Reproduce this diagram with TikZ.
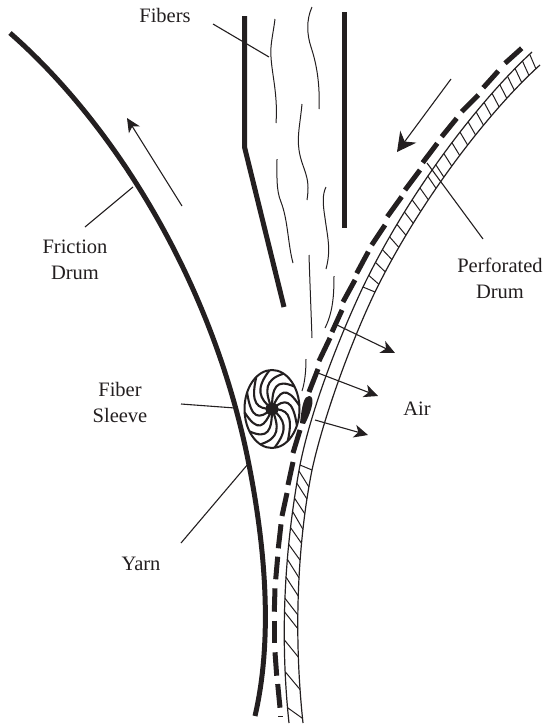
\documentclass[tikz,border=0pt]{standalone}
\usepackage{fontspec}
\setmainfont{Liberation Serif}
\usetikzlibrary{arrows.meta}
\definecolor{ink}{HTML}{231F20}
\tikzset{
  x=1pt,y=-1pt,
  every path/.style={color=ink},
  lbl/.style={inner sep=0pt,align=center,font=\fontsize{20.5}{26}\selectfont,text=ink},
  wallline/.style={line width=5pt,line join=miter},
  beltdash/.style={line width=5pt},
  drumline/.style={line width=1.2pt},
  tick/.style={line width=1pt},
  fiber/.style={line width=1pt},
  leader/.style={line width=1.1pt},
  flow/.style={line width=1.1pt,-{Stealth[length=14pt,width=13pt,inset=4pt]}},
  flowbig/.style={line width=1.1pt,-{Stealth[length=19pt,width=20pt,inset=6pt]}},
}
\begin{document}
\begin{tikzpicture}
\useasboundingbox (0,0) rectangle (544,726);
% friction drum
\draw[wallline] (10,33) .. controls (115,125) and (215,285) .. (250,470)
  .. controls (262,533) and (275,630) .. (255,716);
% channel
\draw[wallline] (244.5,16) -- (244.5,147) -- (284,307);
\draw[wallline] (344.5,12) -- (344.5,228);
% drum walls
\draw[drumline] (532,52) .. controls (480,100) and (410,190) .. (363,287)
  .. controls (338,340) and (311,410) .. (300,465)
  .. controls (288,530) and (278,620) .. (289,723);
\draw[drumline] (540,65) .. controls (490,110) and (420,200) .. (375,292)
  .. controls (352,340) and (324,415) .. (312,470)
  .. controls (300,530) and (292,620) .. (303,723);
% top hatch
\foreach \t in {0.015,0.06,...,0.98}{
  \pgfmathsetmacro{\u}{\t+0.012}
  \path (532,52) .. controls (480,100) and (410,190) .. (363,287) coordinate[pos=\t] (ih);
  \path (540,65) .. controls (490,110) and (420,200) .. (375,292) coordinate[pos=\u] (oh);
  \draw[tick] (ih) -- (oh);
}
\draw[tick] (363,287) -- (375,292);
\draw[tick] (300,465) -- (312,470);
% bottom hatch
\foreach \t/\u in {0.03/0.09,0.09/0.15,0.16/0.22,0.22/0.29,0.29/0.35,0.36/0.42,0.42/0.49,0.49/0.56,0.57/0.63,0.62/0.68,0.72/0.78,0.83/0.89,0.95/0.985}{
  \path (300,465) .. controls (288,530) and (278,620) .. (289,723) coordinate[pos=\t] (ib);
  \path (312,470) .. controls (300,530) and (292,620) .. (303,723) coordinate[pos=\u] (ob);
  \draw[tick] (ib) -- (ob);
}
% perforated belt, dashes
\foreach \xa/\ya/\xb/\yb in {
  521.7/48.3/505/63.3, 498.3/71/483.3/87.7, 478.3/95/461.7/111.7,
  456.7/118.3/441.7/136.7, 437.3/143.3/422.7/162.7, 420/170/405/190,
  401.7/196.7/387.3/216.7, 385/225/371.7/245, 368.3/251.7/356.7/273.3,
  355/280/343/302, 342/310/332/332, 330/338/319/361, 318/369/309/392,
  300/430/293/453, 293/462/288/485, 287/493/282/516,
  281/524.3/278.3/548.3, 277.7/556.7/275.7/579.3, 275/588.3/274.3/611.7,
  274.3/620.7/274.3/643.3, 275/652.3/276.7/675.7, 277.7/684/280/707.7}{
  \draw[beltdash] (\xa,\ya) -- (\xb,\yb);
}
\draw[line width=1pt] (278,716) -- (283,716);
\fill (300,423) .. controls (302,405) and (304,396) .. (309,396)
  .. controls (315,396) and (313,408) .. (305,424) -- cycle;
% fibers
\draw[fiber] (275,19) .. controls (273,35) and (270,45) .. (271,57) .. controls (272,75) and (278,95) .. (276,123);
\draw[fiber] (312,7) .. controls (306,20) and (307,35) .. (311,47) .. controls (317,65) and (320,85) .. (319,109);
\draw[fiber] (302,104) .. controls (300,125) and (297,135) .. (299,150) .. controls (302,170) and (311,175) .. (307,200);
\draw[fiber] (277,159) .. controls (277,175) and (276,190) .. (281,202) .. controls (288,220) and (288,245) .. (293,263);
\draw[fiber] (326,187) .. controls (322,195) and (323,205) .. (325,218) .. controls (328,240) and (331,250) .. (326,269);
\draw[fiber] (309,255) .. controls (310,285) and (311,310) .. (312,338);
\draw[fiber] (334,276) .. controls (334,295) and (333,312) .. (325,328);
\draw[fiber] (306,359) .. controls (306,370) and (305,382) .. (302,391);
% fibre sleeve
\begin{scope}[shift={(272,409)},x=27.5pt,y=-39pt]
  \draw[line width=2pt] (0,0) circle[x radius=1,y radius=1];
  \foreach \a in {0,30,...,330}{
    \draw[line width=2.1pt] (0,0) .. controls (\a:0.55) and ({\a+10}:0.8) .. ({\a+55}:1);
  }
\end{scope}
\fill (272,409) circle[radius=6.5];
% arrows
\coordinate (u1) at (182,206); \coordinate (u2) at (127,118);
\coordinate (d1) at (451,79); \coordinate (d2) at (397,152);
\coordinate (a1) at (337,325); \coordinate (a2) at (395,353);
\coordinate (b1) at (318,373); \coordinate (b2) at (378,396);
\coordinate (c1) at (315,420); \coordinate (c2) at (368,435);
\draw[flow] (u1) -- (u2);
\draw[flowbig] (d1) -- (d2);
\draw[flow] (a1) -- (a2);
\draw[flow] (b1) -- (b2);
\draw[flow] (c1) -- (c2);
% labels
\node[lbl,anchor=base] (fibers) at (165,22) {Fibers};
\node[lbl,anchor=center] (friction) at (75,260) {Friction\\Drum};
\node[lbl,anchor=center] (sleeve) at (120,402) {Fiber\\Sleeve};
\node[lbl,anchor=base] (yarn) at (141,570) {Yarn};
\node[lbl,anchor=center] (perf) at (500,278) {Perforated\\Drum};
\node[lbl,anchor=base] (air) at (417,415) {Air};
% leaders
\coordinate (lf1) at (213,24); \coordinate (lf2) at (269,57);
\coordinate (lp1) at (427,163); \coordinate (lp2) at (483,239);
\coordinate (lr1) at (85,227); \coordinate (lr2) at (133,187);
\coordinate (ls1) at (181,404); \coordinate (ls2) at (235,408);
\coordinate (ly1) at (181,543); \coordinate (ly2) at (248,464);
\draw[leader] (lf1) -- (lf2);
\draw[leader] (lp1) -- (lp2);
\draw[leader] (lr1) -- (lr2);
\draw[leader] (ls1) -- (ls2);
\draw[leader] (ly1) -- (ly2);
\end{tikzpicture}
\end{document}
